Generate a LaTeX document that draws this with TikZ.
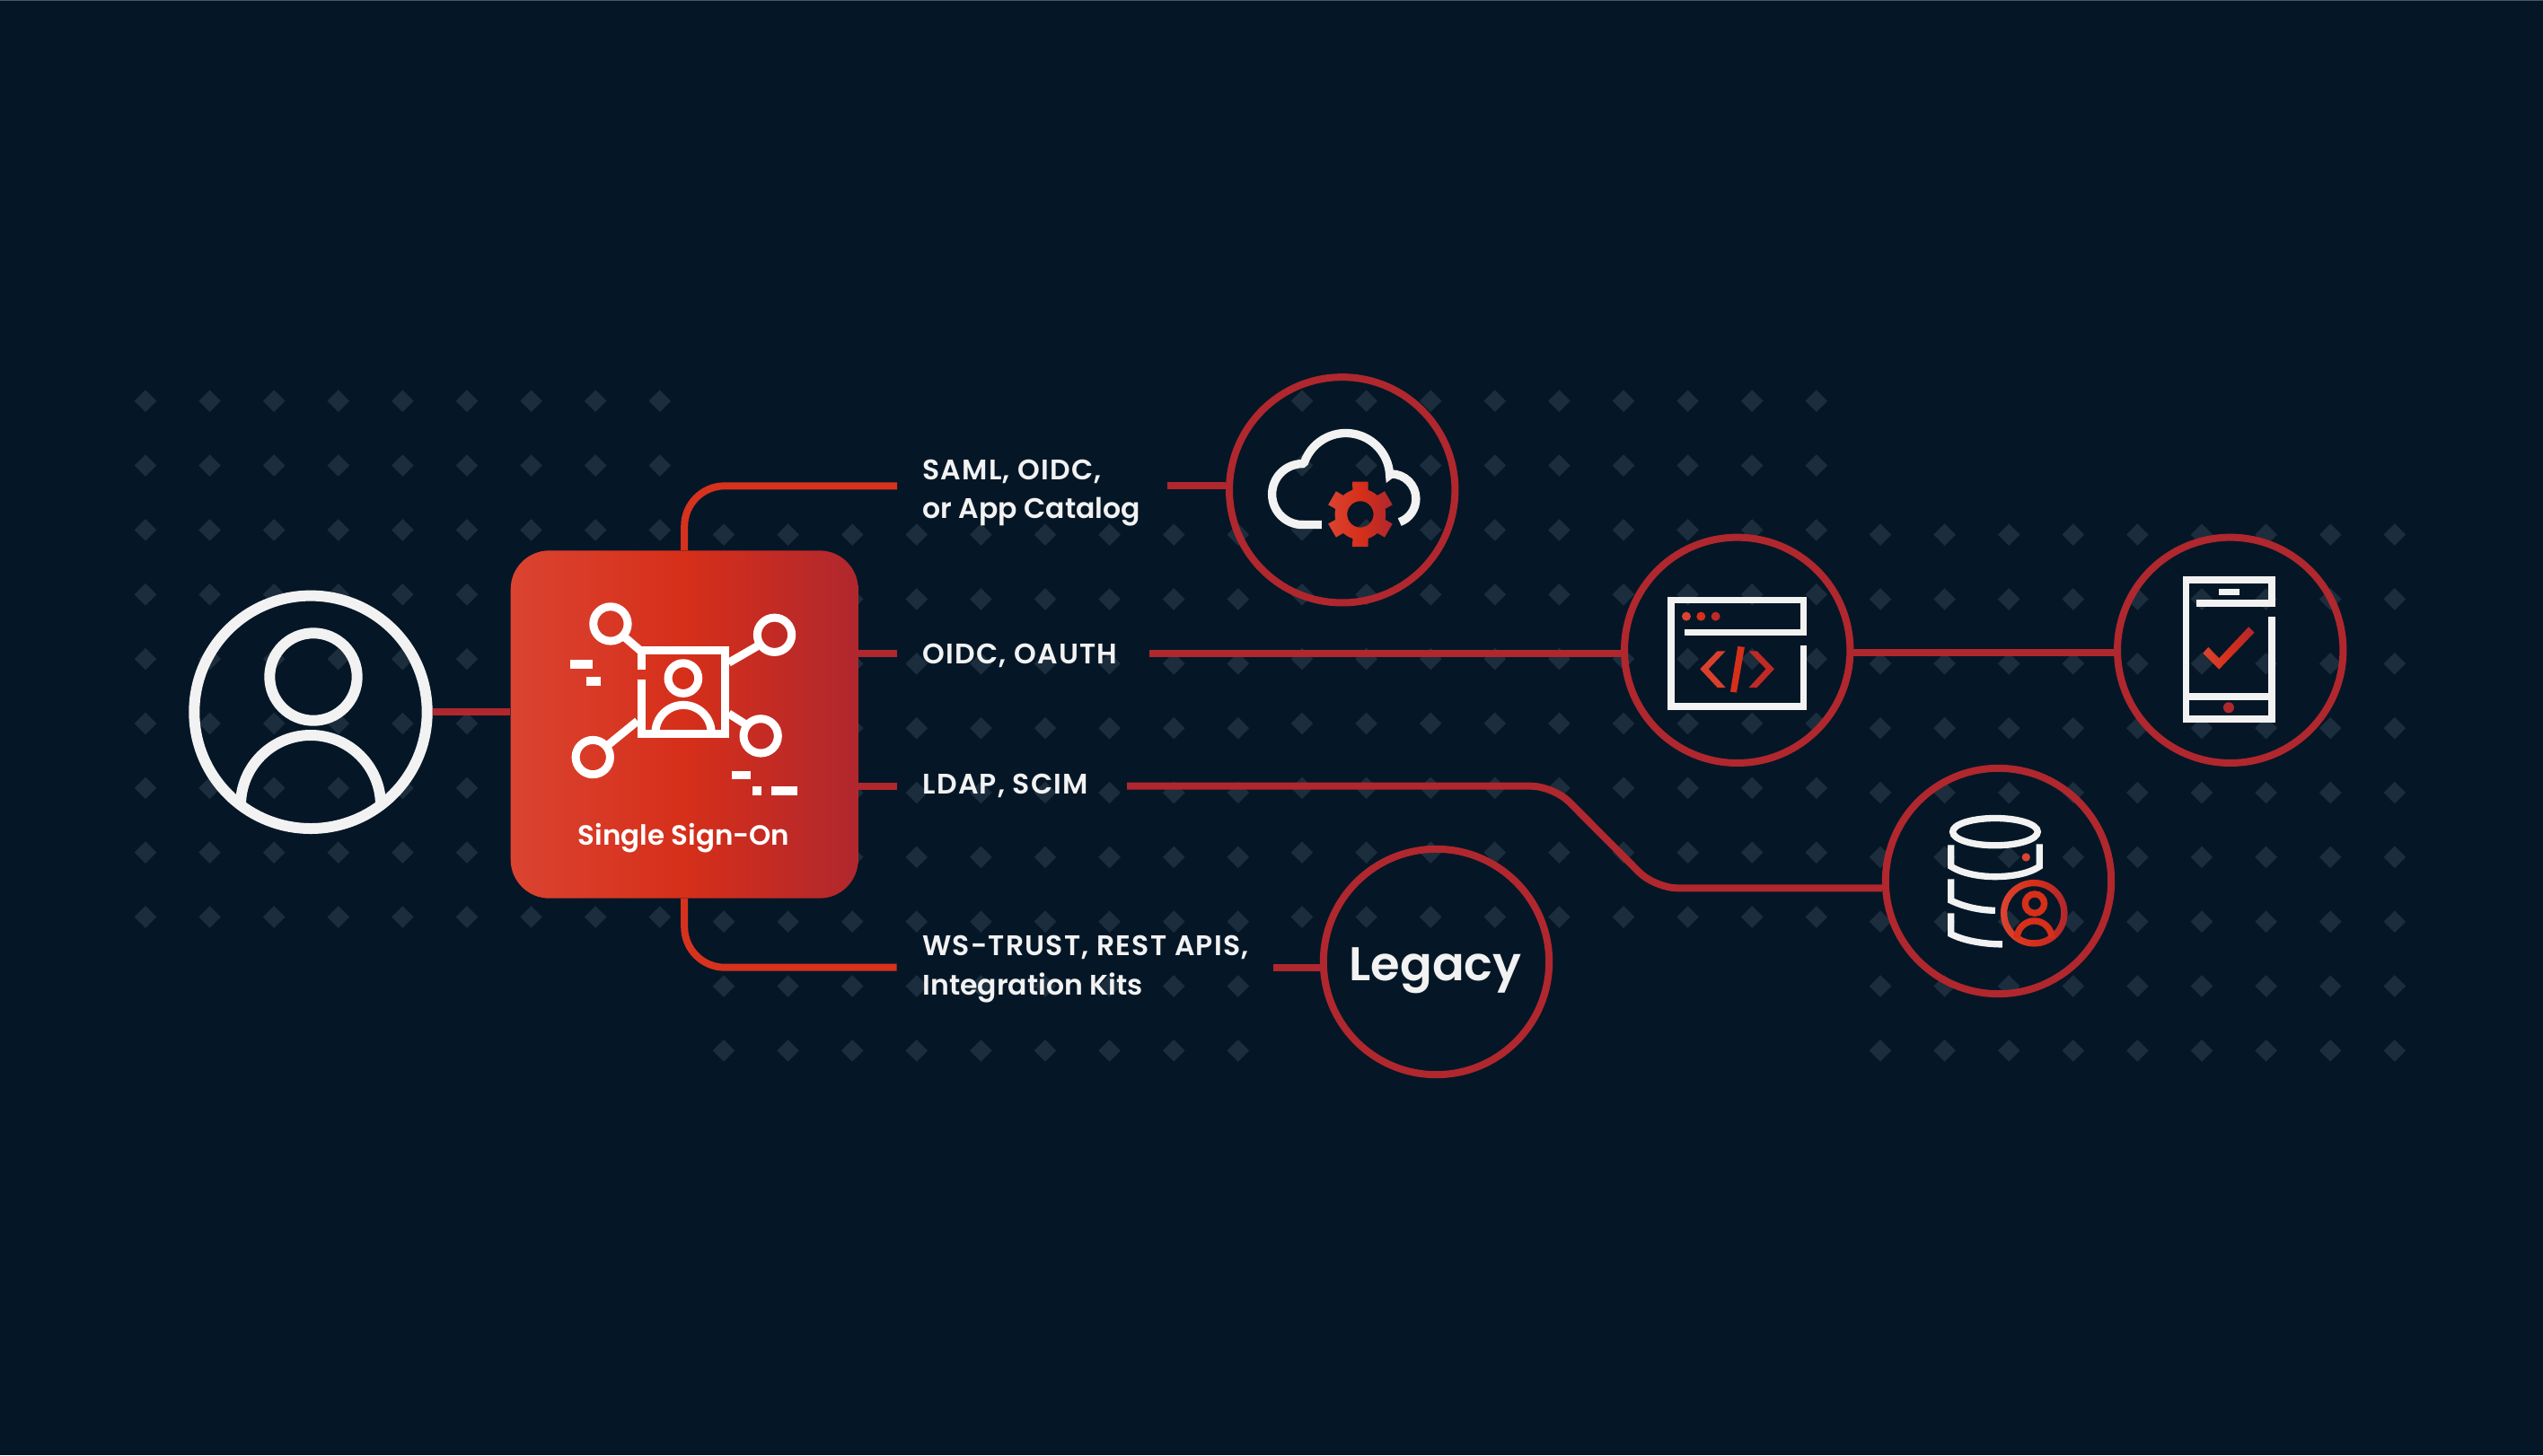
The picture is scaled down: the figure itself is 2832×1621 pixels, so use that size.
\documentclass[tikz,border=0pt]{standalone}
\usepackage{fontspec}
\newfontfamily\labfont{Poppins SemiBold}
\newfontfamily\capfont[LetterSpace=3.8]{Poppins SemiBold}
\definecolor{bgc}{HTML}{051727}
\definecolor{dotc}{HTML}{1C2E3D}
\definecolor{wht}{HTML}{F2F2F2}
\definecolor{redA}{HTML}{DA4431}
\definecolor{redB}{HTML}{D62F1A}
\definecolor{redC}{HTML}{B0272E}
\tikzset{
  griddot/.style={fill=dotc},
  ring/.style={circle,draw=redC,line width=0.24cm,minimum size=7.54cm,inner sep=0pt},
  link/.style={draw=redC,line width=0.24cm},
  linkhot/.style={draw=redB!85!redA,line width=0.24cm},
  lab/.style={text=wht,inner sep=0pt,align=left,anchor=base west,font=\labfont\fontsize{26.9}{36.96}\selectfont},
  whitel/.style={draw=wht,line width=0.22cm,line join=miter,miter limit=10},
  whiteb/.style={draw=white,line width=0.27cm,line join=miter,miter limit=10},
  hot/.style={left color=redA,right color=redC,middle color=redB,draw=none},
  zz/.style={x=0.01cm,y=-0.01cm}
}
\newcommand{\dotgrid}[2]{%
  \foreach \i in {0,...,8}{\foreach \j in {0,...,8}{%
    \fill[griddot,shift={({#1+71.6*\i},{#2+71.85*\j})}] (-12.3,0)--(0,-12.3)--(12.3,0)--(0,12.3)--cycle;}}}
\begin{document}
\begin{tikzpicture}[x=0.03cm,y=-0.03cm]
\useasboundingbox (0,0) rectangle (2832,1621);
\fill[bgc] (0,0) rectangle (2832,1621);
\fill[color=dotc!60!white!60!bgc] (0,0) rectangle (2832,1.2);
\dotgrid{162}{446.7}
\dotgrid{806}{595.6}
\dotgrid{1450}{446.7}
\dotgrid{2094}{595.6}

% main nodes
\node[circle,draw=wht,line width=0.36cm,minimum size=7.782cm,inner sep=0pt] (person) at (346,793.3) {};
\node[rectangle,rounded corners=1.29cm,minimum width=11.61cm,minimum height=11.62cm,inner sep=0pt,hot] (sso) at (762.2,807) {};
\node[ring] (cloud) at (1494.7,545.8) {};
\node[ring] (code) at (1934.7,724.3) {};
\node[ring] (phone) at (2483.7,724.3) {};
\node[ring] (db) at (2225.5,981.5) {};
\node[ring] (legacy) at (1599.5,1071.5) {};

% labels
\node[lab] (t1) at (1027.3,577.5) {{\capfont SAML, OIDC,}\\or App Catalog};
\node[lab] (t2) at (1027.3,739.2) {{\capfont OIDC, OAUTH}};
\node[lab] (t3) at (1027.3,884.8) {{\capfont LDAP, SCIM}};
\node[lab] (t4) at (1027.3,1108.2) {{\capfont WS-TRUST, REST APIS,}\\Integration Kits};
\node[text=white,inner sep=0pt,anchor=base,font=\labfont\fontsize{26.4}{30}\selectfont] (ssot) at (761.5,941) {Single Sign-On};
\node[text=wht,inner sep=0pt,anchor=base,font=\labfont\fontsize{45}{50}\selectfont] (legt) at (1598.5,1092) {Legacy};

% connector ends
\coordinate (a1) at (999,541.3);
\coordinate (b1) at (1300,541.3);
\coordinate (a2) at (999,727.7);
\coordinate (b2) at (1280,727.7);
\coordinate (a3) at (999,875.7);
\coordinate (b3) at (1255,875.7);
\coordinate (k1) at (1730,875.7);
\coordinate (k2) at (1843,989.3);
\coordinate (a4) at (998.5,1077.7);
\coordinate (b4) at (1418,1077.7);

% connectors
\draw[link] (person.east) -- (person.east -| sso.west);
\draw[linkhot,rounded corners=1.35cm] (sso.north) |- (a1);
\draw[link] (b1) -- (b1 -| cloud.west);
\draw[link] (a2 -| sso.east) -- (a2);
\draw[link] (b2) -- (b2 -| code.west);
\draw[link] (code.east |- 0,726.7) -- (phone.west |- 0,726.7);
\draw[link] (a3 -| sso.east) -- (a3);
\draw[link,rounded corners=0.75cm] (b3) -- (k1) -- (k2) -- (k2 -| db.west);
\draw[linkhot,rounded corners=1.35cm] (sso.south) |- (a4);
\draw[link] (b4) -- (b4 -| legacy.west);

% person icon
\draw[draw=wht,line width=0.36cm] (349,754) circle (48.7);
\draw[draw=wht,line width=0.36cm] (268,897) arc (180:360:78);

% SSO icon
\begin{scope}[shift={(540,590)},zz]
  \draw[whiteb] (420,315) circle (57.5);
  \draw[whiteb] (968,352) circle (57.5);
  \draw[whiteb] (361,761) circle (57.5);
  \draw[whiteb] (922,690) circle (57.5);
  \draw[whiteb] (523.5,467) -- (523.5,403.5) -- (803.5,403.5) -- (803.5,681.5) -- (523.5,681.5) -- (523.5,502);
  \draw[whiteb] (462,355) -- (520,405);
  \draw[whiteb] (815,445) -- (910,390);
  \draw[whiteb] (412,720) -- (510,640);
  \draw[whiteb] (815,615) -- (870,650);
  \draw[whiteb] (663,497) circle (50.5);
  \draw[whiteb] (570,680) arc (180:360:93.5);
  \fill[white] (284,436) rectangle (361,465);
  \fill[white] (339,493) rectangle (386,522);
  \fill[white] (825,807) rectangle (887,835);
  \fill[white] (893,858) rectangle (924,887);
  \fill[white] (958,858) rectangle (1044,887);
\end{scope}

% cloud icon
\begin{scope}[shift={(1340,400)},zz]
  \draw[draw=wht,line width=0.28cm] (396,554) -- (332,554) arc (90:270:102) -- (338,345) arc (199.7:357.3:147) -- (628,384) arc (-90:70:83);
  \begin{scope}[shift={(525,519)}]
    \path[hot,even odd rule] (107:85)
      \foreach \a in {90,150,210,270,330,30}{
        -- (\a-17.8:85) -- (\a-13.5:112) -- (\a+13.5:112) -- (\a+17.8:85) arc (\a+17.8:\a+42.2:85)
      } -- cycle (0,0) circle (44);
  \end{scope}
\end{scope}

% code icon
\begin{scope}[shift={(1790,590)},zz]
  \draw[whitel] (656,388) -- (656,591) -- (213,591) -- (213,235) -- (656,235) -- (656,343) -- (259,343);
  \fill[redA] (264,290) circle (15);
  \fill[redB] (313,290) circle (15);
  \fill[redC!60!redB] (362,290) circle (15);
  \fill[redA!80!redB] (395,406) -- (368,406) -- (310,466) -- (368,528) -- (395,528) -- (338,466) -- cycle;
  \fill[redC!60!redB] (473,406) -- (500,406) -- (558,466) -- (500,528) -- (473,528) -- (530,466) -- cycle;
  \fill[redB] (436,390) -- (459,393) -- (432,545) -- (411,542) -- cycle;
\end{scope}

% phone icon
\begin{scope}[shift={(2340,590)},zz]
  \draw[whitel] (570,291) -- (570,633) -- (284,633) -- (284,168) -- (570,168) -- (570,246) -- (317,246);
  \draw[whitel] (284,558.5) -- (570,558.5);
  \fill[wht] (392,198) rectangle (463,219);
  \fill[redC] (426,595) circle (18);
  \path[hot] (358,393) -- (394,430) -- (493,325) -- (512,344) -- (394,467) -- (340,413) -- cycle;
\end{scope}

% database icon
\begin{scope}[shift={(2090,850)},zz]
  \draw[whitel] (396,230) ellipse (142 and 45.5);
  \draw[whitel] (248.5,274) -- (248.5,346) .. controls (290,372) and (350,380) .. (396,380) .. controls (445,380) and (505,372) .. (544,346) -- (544,271);
  \draw[whitel] (248.5,388) -- (248.5,460) .. controls (290,480) and (345,493) .. (396,493);
  \draw[whitel] (248.5,502) -- (248.5,572) .. controls (290,594) and (360,606) .. (420,606);
  \fill[redA] (499,315) circle (14);
  \path[hot,even odd rule] (526,502) circle (112) (526,502) circle (90);
  \draw[draw=redB,line width=0.22cm] (528,470) circle (32);
  \draw[draw=redB,line width=0.22cm] (469,586) arc (180:360:58);
\end{scope}
\end{tikzpicture}
\end{document}
